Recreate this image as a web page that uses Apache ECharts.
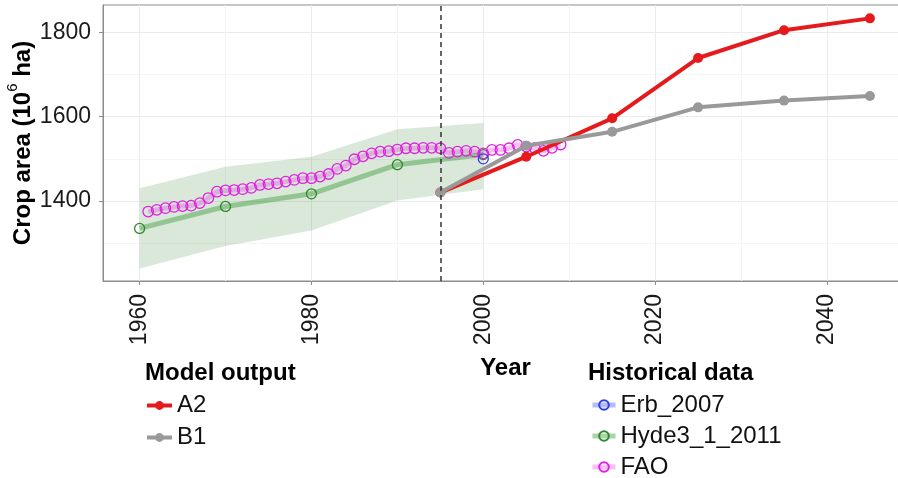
<!DOCTYPE html>
<html><head><meta charset="utf-8">
<script src="https://cdn.jsdelivr.net/npm/echarts@6/dist/echarts.min.js"></script>
<style>html,body{margin:0;padding:0;background:#fff}#c{width:898px;height:478px}</style>
</head><body><div id="c"></div>
<script>
// ---- data ----
const modelYears = [1995, 2005, 2015, 2025, 2035, 2045];
const a2Values = [1420, 1505, 1596, 1739, 1805, 1833];
const b1Values = [1420, 1531, 1564, 1622, 1638, 1649];

const hydeYears = [1960, 1970, 1980, 1990, 2000];
const hydeValues = [1335, 1387, 1417, 1486, 1510];
const hydeLower = [1240, 1293, 1330, 1401, 1428];
const hydeUpper = [1430, 1481, 1505, 1570, 1585];

const erbYears = [2000];
const erbValues = [1500];

const faoYears = [1961,1962,1963,1964,1965,1966,1967,1968,1969,1970,
  1971,1972,1973,1974,1975,1976,1977,1978,1979,1980,
  1981,1982,1983,1984,1985,1986,1987,1988,1989,1990,
  1991,1992,1993,1994,1995,1996,1997,1998,1999,2000,
  2001,2002,2003,2004,2005,2006,2007,2008,2009];
const faoValues = [1375,1379,1383,1386,1388,1389,1395,1407,1422,1425,
  1426,1428,1431,1438,1440,1442,1446,1450,1454,1454,
  1458,1464,1476,1484,1499,1506,1513,1517,1518,1522,
  1525,1525,1526,1526,1525,1514,1517,1519,1517,1513,
  1521,1521,1525,1533,1529,1525,1519,1526,1534];

const xTickValues = [1960, 1980, 2000, 2020, 2040];
const xMinorValues = [1970, 1990, 2010, 2030];
const yTickValues = [1400, 1600, 1800];
const yMinorValues = [1300, 1500, 1700];
const scenarioStart = 1995;

// ---- layout ----
const FONT = 'Liberation Sans, Arial, sans-serif';
const X_MIN = 1955.74, X_MAX = 2049.43;
const Y_MIN = 1210.3, Y_MAX = 1864.7;

const pairs = (xs, ys) => xs.map((x, i) => [x, ys[i]]);
const plain = v => String(Math.round(v));

const chart = echarts.init(document.getElementById('c'), null, {renderer: 'canvas'});

const option = {
  backgroundColor: '#fff',
  animation: false,
  grid: {left: 103, top: 5, width: 805, height: 276, show: true, containLabel: false,
         outerBoundsMode: 'none',
         borderColor: '#8c8c8c', borderWidth: 1, backgroundColor: 'transparent'},
  xAxis: [
    {type: 'value', min: X_MIN, max: X_MAX, position: 'bottom',
     axisLine: {show: true, onZero: false, lineStyle: {color: '#8c8c8c', width: 1}},
     axisTick: {show: true, customValues: xTickValues, length: 4, lineStyle: {color: '#8c8c8c'}},
     axisLabel: {customValues: xTickValues, rotate: 90, margin: 13, fontSize: 23,
                 color: '#1a1a1a', fontFamily: FONT, formatter: plain},
     splitLine: {show: true, lineStyle: {color: '#ebebeb', width: 1}},
     name: 'Year', nameLocation: 'middle', nameGap: 75, nameMoveOverlap: false,
     nameTextStyle: {fontSize: 24, fontWeight: 'bold', color: '#000', fontFamily: FONT}},
    {type: 'value', min: X_MIN, max: X_MAX, position: 'top',
     axisLine: {show: false},
     axisTick: {show: false, customValues: xMinorValues},
     axisLabel: {show: false, customValues: xMinorValues},
     splitLine: {show: true, lineStyle: {color: '#f5f5f5', width: 1}}}
  ],
  yAxis: [
    {type: 'value', min: Y_MIN, max: Y_MAX, position: 'left',
     axisLine: {show: true, onZero: false, lineStyle: {color: '#8c8c8c', width: 1}},
     axisTick: {show: true, customValues: yTickValues, length: 4, lineStyle: {color: '#8c8c8c'}},
     axisLabel: {customValues: yTickValues, margin: 12, fontSize: 23, color: '#1a1a1a',
                 fontFamily: FONT, formatter: plain},
     splitLine: {show: true, lineStyle: {color: '#ebebeb', width: 1}},
     name: '{t|Crop area (10}{s|6}{t| ha)}', nameLocation: 'middle', nameGap: 68, nameRotate: 90,
     nameMoveOverlap: false,
     nameTextStyle: {rich: {
        t: {fontSize: 24, fontWeight: 'bold', color: '#000', fontFamily: FONT, lineHeight: 30, verticalAlign: 'bottom'},
        s: {fontSize: 15, color: '#000', fontFamily: FONT, lineHeight: 30, verticalAlign: 'top'}
     }}},
    {type: 'value', min: Y_MIN, max: Y_MAX, position: 'right',
     axisLine: {show: false},
     axisTick: {show: false, customValues: yMinorValues},
     axisLabel: {show: false, customValues: yMinorValues},
     splitLine: {show: true, lineStyle: {color: '#f5f5f5', width: 1}}}
  ],
  legend: [
    {data: ['A2', 'B1'], orient: 'vertical', left: 145, top: 393.5, height: 90, padding: 0,
     itemWidth: 25, itemHeight: 11, itemGap: 8, selectedMode: false,
     lineStyle: {width: 4},
     textStyle: {fontSize: 24, color: '#111', fontFamily: FONT}},
    {data: ['Erb_2007', 'Hyde3_1_2011', 'FAO'], orient: 'vertical', left: 590, top: 393,
     height: 90, padding: 0,
     itemWidth: 23, itemHeight: 12, itemGap: 7, selectedMode: false,
     lineStyle: {width: 5},
     textStyle: {fontSize: 24, color: '#111', fontFamily: FONT}}
  ],
  graphic: [
    {type: 'text', x: 145, y: 373, style: {text: 'Model output', font: 'bold 24px ' + FONT,
      fill: '#000', verticalAlign: 'middle'}},
    {type: 'text', x: 588, y: 373, style: {text: 'Historical data', font: 'bold 24px ' + FONT,
      fill: '#000', verticalAlign: 'middle'}}
  ],
  series: [
    {name: 'band', type: 'custom', silent: true, z: 1,
     data: [[hydeYears[0], hydeLower[0]]],
     renderItem: function (params, api) {
       const up = hydeYears.map((y, i) => api.coord([y, hydeUpper[i]]));
       const lo = hydeYears.map((y, i) => api.coord([y, hydeLower[i]])).reverse();
       return {type: 'polygon', shape: {points: up.concat(lo)},
               style: {fill: 'rgba(0,100,0,0.15)'}};
     }},
    {name: 'Hyde3_1_2011', type: 'line', data: pairs(hydeYears, hydeValues),
     lineStyle: {color: 'rgba(34,139,34,0.38)', width: 5},
     symbol: 'circle', symbolSize: 10,
     itemStyle: {color: 'rgba(255,255,255,0)', borderColor: '#2a8a2a', borderWidth: 1.3}, z: 2},
    {name: 'FAO', type: 'line', data: pairs(faoYears, faoValues),
     lineStyle: {color: 'rgba(230,0,230,0.25)', width: 5},
     symbol: 'circle', symbolSize: 10.5,
     itemStyle: {color: 'rgba(255,255,255,0)', borderColor: '#e020e0', borderWidth: 1.3}, z: 3},
    {name: 'Erb_2007', type: 'line', data: pairs(erbYears, erbValues),
     lineStyle: {color: 'rgba(40,60,255,0.35)', width: 5},
     symbol: 'circle', symbolSize: 10,
     itemStyle: {color: 'rgba(255,255,255,0)', borderColor: '#2f3fee', borderWidth: 1.3}, z: 4},
    {name: 'A2', type: 'line', data: pairs(modelYears, a2Values),
     lineStyle: {color: '#e41a1c', width: 4}, symbol: 'circle', symbolSize: 10,
     itemStyle: {color: '#e41a1c'}, z: 5},
    {name: 'B1', type: 'line', data: pairs(modelYears, b1Values),
     lineStyle: {color: '#999999', width: 4}, symbol: 'circle', symbolSize: 10,
     itemStyle: {color: '#999999'}, z: 6,
     markLine: {silent: true, symbol: ['none', 'none'], label: {show: false},
       lineStyle: {color: '#333', type: [5, 4], width: 1.5},
       data: [{xAxis: scenarioStart}], z: 7}}
  ]
};
chart.setOption(option);
</script>
</body></html>
